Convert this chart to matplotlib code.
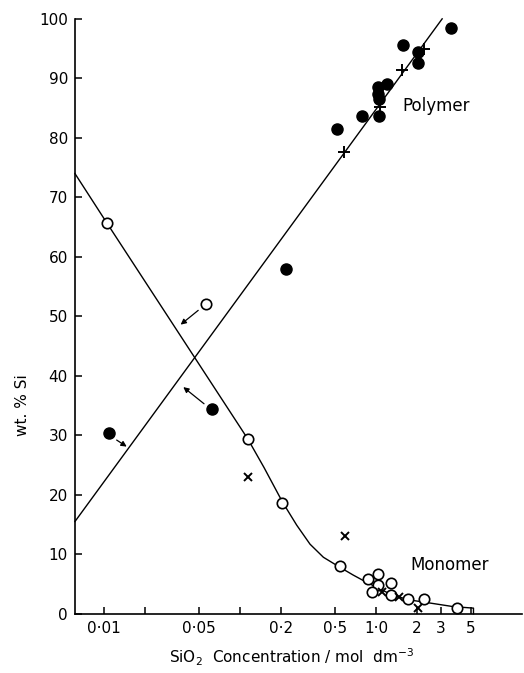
import matplotlib
matplotlib.use("Agg")
import matplotlib.pyplot as plt
from matplotlib.ticker import FixedLocator, FixedFormatter, NullLocator

# polymer (filled circles and +)
poly_dot_x = [0.0109, 0.0622, 0.218, 0.514, 0.79, 1.05, 1.03, 1.03, 1.2, 1.05, 1.57, 2.05, 2.05, 3.54]
poly_dot_y = [30.4, 34.5, 58.0, 81.5, 83.6, 83.6, 88.6, 87.4, 89.0, 86.6, 95.6, 94.5, 92.6, 98.5]
poly_plus_x = [0.58, 1.07, 1.55, 2.25]
poly_plus_y = [77.6, 85.2, 91.4, 94.9]

# monomer (open circles and x)
mono_open_x = [0.0105, 0.0562, 0.114, 0.205, 0.544, 0.878, 1.04, 1.04, 0.93, 1.28, 1.28, 1.71, 2.26, 3.96]
mono_open_y = [65.7, 52.1, 29.4, 18.6, 7.95, 5.8, 6.7, 4.9, 3.6, 5.2, 3.2, 2.5, 2.5, 1.0]
mono_x_x = [0.115, 0.59, 1.10, 1.48, 2.05]
mono_x_y = [23.0, 13.0, 3.6, 2.8, 1.0]

# drawn curves
poly_line_x = [0.00612, 3.06]
poly_line_y = [15.5, 100.0]
mono_line_x = [0.00612, 0.0105, 0.114, 0.15, 0.205, 0.261, 0.327, 0.41, 0.53, 0.68, 0.85,
               1.2, 1.68, 2.5, 3.7, 5.2, 5.2]
mono_line_y = [74.0, 65.7, 29.4, 24.6, 18.8, 14.9, 11.7, 9.5, 7.95, 6.5, 5.3,
               3.6, 2.4, 1.8, 1.2, 0.95, 0.0]

tick_vals = [0.01, 0.02, 0.05, 0.1, 0.2, 0.5, 1.0, 2, 3, 5]
tick_labels = ['0·01', '', '0·05', '', '0·2', '0·5', '1·0', '2', '3', '5']

fig = plt.figure(figsize=(5.24, 6.73), dpi=100)
ax = fig.add_axes([0.143, 0.088, 0.853, 0.884])

ax.plot(poly_line_x, poly_line_y, color='black', lw=1.0, clip_on=False)
ax.plot(mono_line_x, mono_line_y, color='black', lw=1.0, clip_on=False)

ax.plot(poly_dot_x, poly_dot_y, 'o', color='black', ms=8, clip_on=False)
ax.plot(poly_plus_x, poly_plus_y, '+', color='black', ms=9, mew=1.4)
ax.plot(mono_open_x, mono_open_y, 'o', mfc='white', mec='black', ms=7.5, mew=1.2, clip_on=False)
ax.plot(mono_x_x, mono_x_y, 'x', color='black', ms=6, mew=1.4)

arrows = [((0.0124, 29.2), (0.0147, 28.1)),
          ((0.0493, 51.0), (0.0366, 48.6)),
          ((0.0544, 35.3), (0.0383, 38.1))]
for tail, head in arrows:
    ax.annotate('', xy=head, xytext=tail,
                arrowprops=dict(arrowstyle='-|>', color='black', lw=0.9,
                                mutation_scale=8, shrinkA=0, shrinkB=0))

ax.text(1.57, 85.3, 'Polymer', fontsize=12, va='center', ha='left')
ax.text(1.78, 8.2, 'Monomer', fontsize=12, va='center', ha='left')

ax.set_xscale('log')
ax.set_xlim(0.00612, 11.8)
ax.set_ylim(0, 100)
ax.xaxis.set_major_locator(FixedLocator(tick_vals))
ax.xaxis.set_major_formatter(FixedFormatter(tick_labels))
ax.xaxis.set_minor_locator(NullLocator())
ax.set_yticks(range(0, 101, 10))

for s in ['top', 'right']:
    ax.spines[s].set_visible(False)
for s in ['left', 'bottom']:
    ax.spines[s].set_linewidth(1.2)
ax.tick_params(direction='in', length=5, width=1.1, labelsize=11, pad=5)

ax.set_xlabel('SiO$_2$  Concentration / mol  dm$^{-3}$', fontsize=11)
ax.set_ylabel('wt. % Si', fontsize=11)
ax.yaxis.set_label_coords(-0.10, 0.35)
ax.xaxis.set_label_coords(0.485, -0.056)

fig.savefig('out.png', dpi=100)
